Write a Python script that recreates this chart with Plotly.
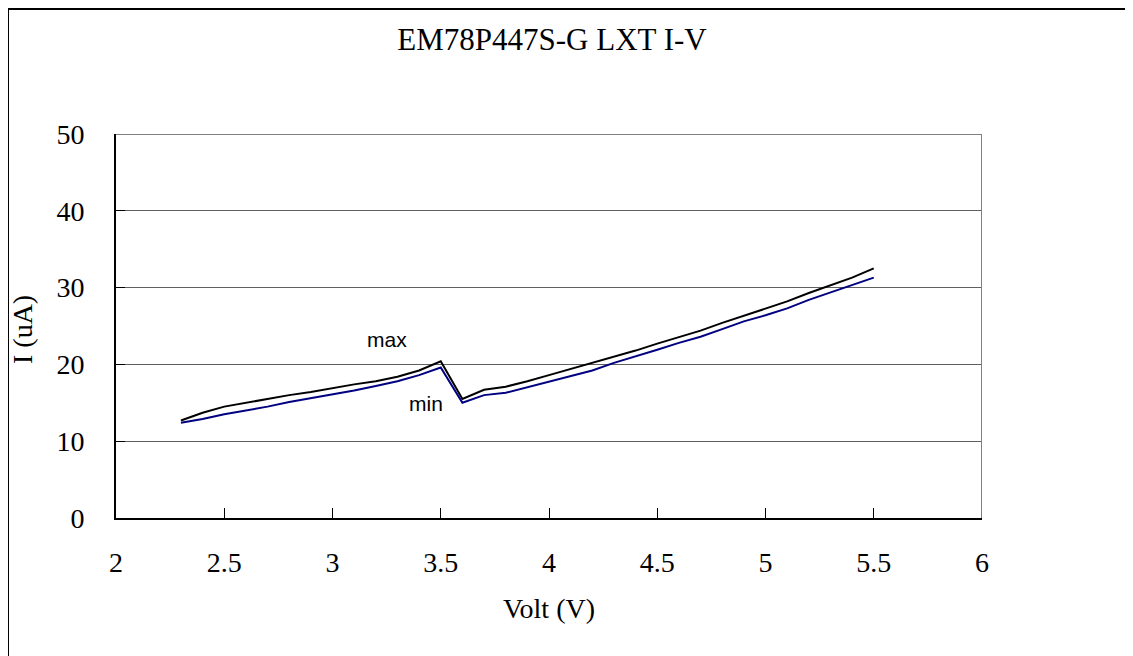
import plotly.graph_objects as go

# data
volt = [2.3, 2.4, 2.5, 2.6, 2.7, 2.8, 2.9, 3.0, 3.1, 3.2, 3.3, 3.4, 3.5,
        3.6, 3.7, 3.8, 3.9, 4.0, 4.1, 4.2, 4.3, 4.4, 4.5, 4.6, 4.7, 4.8,
        4.9, 5.0, 5.1, 5.2, 5.3, 5.4, 5.5]
i_max = [12.7, 13.7, 14.5, 15.0, 15.5, 16.0, 16.4, 16.9, 17.4, 17.8, 18.4, 19.2, 20.4,
         15.5, 16.7, 17.1, 17.8, 18.6, 19.4, 20.2, 21.0, 21.8, 22.7, 23.5, 24.4, 25.4,
         26.3, 27.2, 28.2, 29.3, 30.3, 31.3, 32.5]
i_min = [12.4, 12.9, 13.5, 14.0, 14.5, 15.1, 15.6, 16.1, 16.6, 17.2, 17.8, 18.6, 19.6,
         15.0, 16.0, 16.3, 17.0, 17.7, 18.5, 19.2, 20.2, 21.0, 21.9, 22.8, 23.6, 24.6,
         25.6, 26.4, 27.3, 28.4, 29.4, 30.3, 31.3]

x_ticks = [2, 2.5, 3, 3.5, 4, 4.5, 5, 5.5, 6]
x_labels = ["2", "2.5", "3", "3.5", "4", "4.5", "5", "5.5", "6"]
y_ticks = [0, 10, 20, 30, 40, 50]

serif = "Liberation Serif, Times New Roman, serif"

# page body has an 8px margin, so the figure is a bit smaller than the window
W, H = 1125, 648
L, T = 108, 126
PW, PH = 866, 384

fig = go.Figure()
fig.add_trace(go.Scatter(x=volt, y=i_max, mode="lines", name="max",
                         line=dict(color="black", width=2)))
fig.add_trace(go.Scatter(x=volt, y=i_min, mode="lines", name="min",
                         line=dict(color="#000080", width=2)))

fig.add_annotation(x=3.25, y=23.2, text="max", showarrow=False,
                   font=dict(family="Liberation Sans, Arial", size=21, color="black"))
fig.add_annotation(x=3.43, y=14.9, text="min", showarrow=False,
                   font=dict(family="Liberation Sans, Arial", size=21, color="black"))

# y axis title placed by hand (plotly keeps it too far from the ticks)
fig.add_annotation(xref="paper", yref="paper", x=(14 - L) / PW, y=(T + PH - 322) / PH,
                   text="I (uA)", textangle=-90, showarrow=False,
                   xanchor="center", yanchor="middle",
                   font=dict(family=serif, size=28, color="black"))

# outer chart border + grey top/right of plot area
fig.add_shape(type="rect", xref="paper", yref="paper",
              x0=(0 - L) / PW, x1=(W + 10 - L) / PW,
              y0=-(H + 40 - T - PH) / PH, y1=(T + PH - 1) / PH,
              line=dict(color="black", width=2), layer="below")
fig.add_shape(type="line", xref="x", yref="y", x0=2, x1=6, y0=50, y1=50,
              line=dict(color="#808080", width=2))
fig.add_shape(type="line", xref="x", yref="y", x0=6, x1=6, y0=0, y1=50,
              line=dict(color="#808080", width=2))

fig.update_layout(
    width=W, height=H,
    margin=dict(l=L, r=W - L - PW, t=T, b=H - T - PH),
    paper_bgcolor="white", plot_bgcolor="white",
    showlegend=False,
    title=dict(text="EM78P447S-G LXT I-V", x=544 / W, xanchor="center",
               y=1 - 31 / H, yanchor="middle",
               font=dict(family=serif, size=31, color="black")),
    xaxis=dict(range=[2, 6], tickvals=x_ticks, ticktext=x_labels,
               showgrid=False, zeroline=False,
               showline=True, linecolor="black", linewidth=2,
               ticks="inside", ticklen=10, tickcolor="black",
               ticklabelstandoff=18,
               tickfont=dict(family=serif, size=28, color="black"),
               title=dict(text="Volt (V)", standoff=22,
                          font=dict(family=serif, size=28, color="black"))),
    yaxis=dict(range=[0, 50], tickvals=y_ticks,
               showgrid=True, gridcolor="#606060", gridwidth=1,
               zeroline=False,
               showline=True, linecolor="black", linewidth=2,
               ticks="inside", ticklen=9, tickcolor="black",
               ticklabelstandoff=24,
               tickfont=dict(family=serif, size=28, color="black")),
)

fig.write_html("out.html")
